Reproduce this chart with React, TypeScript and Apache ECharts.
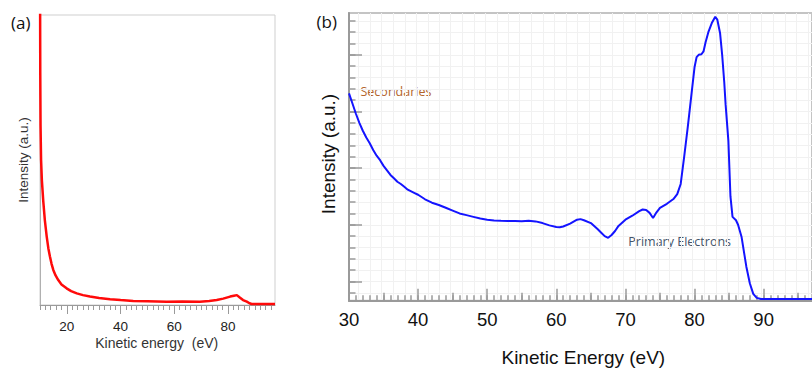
import React, { useEffect, useRef } from "react";
import * as echarts from "echarts";

// ---------- Panel (a): full spectrum ----------
const A_ENERGY = [10.0, 10.1, 10.2, 10.4, 10.7, 11.2, 11.8, 12.5, 13.1, 13.7, 14.3, 14.95, 15.8, 16.8, 18.0, 19.9, 21.6, 23.7, 26.0, 28.6, 32.0, 36.1, 40.0, 44.7, 50.0, 57.2, 63.0, 69.5, 73.0, 75.8, 78.2, 80.8, 82.2, 83.3, 84.5, 85.6, 87.0, 88.0, 88.8, 92.0, 97.5];
const A_INTENSITY = [118, 80, 62, 50, 43, 36, 29.3, 23.6, 19.6, 16.7, 14.2, 12.1, 10.2, 8.6, 7.1, 5.75, 4.8, 4.0, 3.4, 2.9, 2.4, 2.0, 1.7, 1.4, 1.3, 1.15, 1.2, 1.15, 1.4, 1.7, 2.2, 2.9, 3.2, 3.4, 2.5, 1.7, 1.15, 0.6, 0.35, 0.35, 0.35];
const A_MINOR_TICKS = [10, 12, 14, 16, 18, 20, 22, 24, 26, 28, 30, 32, 34, 36, 38, 40, 42, 44, 46, 48, 50, 52, 54, 56, 58, 60, 62, 64, 66, 68, 70, 72, 74, 76, 78, 80, 82, 84, 86, 88, 90, 92, 94, 96];
const A_LABELS = [20, 40, 60, 80];

// ---------- Panel (b): zoomed spectrum ----------
const B_ENERGY = [30, 30.5, 31, 31.5, 32, 32.5, 33, 33.5, 34, 34.5, 35, 35.5, 36, 36.5, 37, 37.5, 38, 38.5, 39, 39.5, 40, 41, 42, 43, 44, 45, 46, 47, 48, 49, 50, 51, 52, 53, 54, 55, 56, 57, 58, 59, 60, 60.5, 61, 62, 63, 63.5, 64, 65, 66, 66.5, 67, 67.5, 68, 68.5, 69, 70, 71, 72, 72.5, 73, 73.5, 74, 74.5, 75, 76, 77, 77.5, 78, 78.5, 79, 79.5, 80, 80.3, 80.6, 81, 81.3, 81.6, 82, 82.5, 83, 83.3, 83.7, 84, 84.3, 84.5, 84.9, 85.2, 85.5, 86, 86.3, 86.8, 87.5, 88, 88.5, 89, 89.6, 91, 93, 95, 97];
const B_INTENSITY = [16.6, 15.7, 14.8, 14.0, 13.3, 12.7, 12.2, 11.6, 11.1, 10.7, 10.2, 9.8, 9.4, 9.1, 8.8, 8.6, 8.35, 8.1, 7.95, 7.8, 7.65, 7.25, 6.95, 6.75, 6.5, 6.25, 6.0, 5.85, 5.7, 5.55, 5.45, 5.38, 5.35, 5.33, 5.34, 5.32, 5.36, 5.3, 5.15, 4.95, 4.8, 4.78, 4.85, 5.1, 5.45, 5.5, 5.4, 5.15, 4.6, 4.3, 4.0, 3.85, 4.1, 4.45, 4.9, 5.45, 5.8, 6.2, 6.35, 6.3, 6.05, 5.6, 6.1, 6.5, 6.85, 7.3, 7.7, 8.6, 11.0, 13.5, 16.2, 18.9, 19.8, 20.0, 20.05, 20.3, 21.1, 22.0, 22.8, 23.35, 23.1, 21.9, 20.0, 17.6, 15.6, 12.4, 7.5, 5.7, 5.4, 5.0, 3.95, 1.3, -0.16, -1.1, -1.45, -1.55, -1.55, -1.55, -1.55, -1.55];
const B_MAJOR_X = [30, 40, 50, 60, 70, 80, 90];
const B_MID_X = [35, 45, 55, 65, 75, 85, 95];
const B_MINOR_X = [30, 31, 32, 33, 34, 35, 36, 37, 38, 39, 40, 41, 42, 43, 44, 45, 46, 47, 48, 49, 50, 51, 52, 53, 54, 55, 56, 57, 58, 59, 60, 61, 62, 63, 64, 65, 66, 67, 68, 69, 70, 71, 72, 73, 74, 75, 76, 77, 78, 79, 80, 81, 82, 83, 84, 85, 86, 87, 88, 89, 90, 91, 92, 93, 94, 95, 96];
const B_GRID_X = [31.4, 33.1, 34.7, 36.4, 38.1, 39.7, 41.4, 43.1, 44.7, 46.4, 48.1, 49.7, 51.4, 53.1, 54.7, 56.4, 58.1, 59.7, 61.4, 63.1, 64.7, 66.4, 68.1, 69.7, 71.4, 73.1, 74.7, 76.4, 78.1, 79.7, 81.4, 83.1, 84.7, 86.4, 88.1, 89.7, 91.4, 93.1, 94.7, 96.4];
const B_MINOR_Y = [-1, 0, 1, 2, 3, 4, 5, 6, 7, 8, 9, 10, 11, 12, 13, 14, 15, 16, 17, 18, 19, 20, 21, 22, 23];
const B_MAJOR_Y = [0, 5, 10, 15, 20];

const AXIS_GREY = "#9a9a9a";
const SANS = "'Liberation Sans', Arial, sans-serif";
const NOTE = "'Open Sans', Lato, sans-serif";

export default function App() {
  const ref = useRef<HTMLDivElement>(null);

  useEffect(() => {
    if (!ref.current) return;
    const chart = echarts.init(ref.current, undefined, { renderer: "svg" });
    const aData = A_ENERGY.map((e, i) => [e, A_INTENSITY[i]]);
    const bData = B_ENERGY.map((e, i) => [e, B_INTENSITY[i]]);

    const bX = (extra: any) => ({
      gridIndex: 1, type: "value", min: 30, max: 97, position: "bottom",
      axisLabel: { show: false },
      splitLine: { show: false },
      ...extra,
    });

    chart.setOption({
      animation: false,
      backgroundColor: "#ffffff",
      grid: [
        { left: 40, top: 15, width: 235, height: 290, show: true, borderColor: "#cfcfcf", borderWidth: 1 },
        { left: 349, top: 13, width: 469, height: 287.7, show: true, borderColor: "#c4c4c4", borderWidth: 2 },
      ],
      xAxis: [
        {
          gridIndex: 0, type: "value", min: 10, max: 97.5, position: "bottom",
          axisLine: { onZero: false, lineStyle: { color: AXIS_GREY, width: 1 } },
          axisTick: { customValues: A_MINOR_TICKS, length: 5, lineStyle: { color: AXIS_GREY } },
          axisLabel: { customValues: A_LABELS, fontSize: 13.5, fontFamily: SANS, color: "#222", margin: 14 },
          splitLine: { show: false },
        },
        {
          gridIndex: 0, type: "value", min: 10, max: 97.5, position: "bottom",
          axisLine: { show: false, onZero: false },
          axisTick: { customValues: A_LABELS, length: 9, lineStyle: { color: AXIS_GREY } },
          axisLabel: { show: false },
          splitLine: { show: false },
        },
        bX({
          axisLine: { onZero: false, lineStyle: { color: AXIS_GREY, width: 2 } },
          axisTick: { inside: true, customValues: B_MAJOR_X, length: 12, lineStyle: { color: AXIS_GREY, width: 1.5 } },
          axisLabel: { customValues: B_MAJOR_X, fontSize: 18.5, fontFamily: SANS, color: "#111", margin: 9 },
        }),
        bX({
          axisLine: { show: false, onZero: false },
          axisTick: { inside: true, customValues: B_MID_X, length: 8, lineStyle: { color: AXIS_GREY, width: 1.5 } },
        }),
        bX({
          axisLine: { show: false, onZero: false },
          axisTick: { inside: true, customValues: B_MINOR_X, length: 5.5, lineStyle: { color: AXIS_GREY, width: 1.5 } },
        }),
        bX({
          axisLine: { show: false, onZero: false },
          axisTick: { show: false, customValues: B_GRID_X },
          splitLine: { show: true, lineStyle: { color: "#f1f1f1", width: 1 } },
        }),
      ],
      yAxis: [
        {
          gridIndex: 0, type: "value", min: 0, max: 100, position: "left",
          axisLine: { show: true, onZero: false, lineStyle: { color: "#b0b0b0", width: 1 } },
          axisTick: { show: false },
          axisLabel: { show: false },
          splitLine: { show: false },
        },
        {
          gridIndex: 1, type: "value", min: -1.7, max: 23.69, position: "left",
          axisLine: { show: true, onZero: false, lineStyle: { color: AXIS_GREY, width: 2 } },
          axisTick: { inside: true, customValues: B_MINOR_Y, length: 6.5, lineStyle: { color: AXIS_GREY, width: 1.5 } },
          axisLabel: { show: false },
          splitLine: { show: true, lineStyle: { color: "#f1f1f1", width: 1 } },
        },
        {
          gridIndex: 1, type: "value", min: -1.7, max: 23.69, position: "left",
          axisLine: { show: false, onZero: false },
          axisTick: { inside: true, customValues: B_MAJOR_Y, length: 13, lineStyle: { color: AXIS_GREY, width: 1.5 } },
          axisLabel: { show: false },
          splitLine: { show: false },
        },
      ],
      series: [
        {
          type: "line", xAxisIndex: 0, yAxisIndex: 0, data: aData,
          showSymbol: false, clip: true,
          lineStyle: { color: "#ff0a0a", width: 2.5 },
        },
        {
          type: "line", xAxisIndex: 2, yAxisIndex: 1, data: bData,
          showSymbol: false, clip: true,
          lineStyle: { color: "#1414ff", width: 2 },
        },
      ],
      graphic: [
        { type: "text", x: 11, y: 22.5, style: { text: "(a)", fontSize: 17, fontFamily: NOTE, fill: "#111", verticalAlign: "middle" } },
        { type: "text", x: 316.5, y: 21.7, style: { text: "(b)", fontSize: 17, fontFamily: NOTE, fill: "#111", verticalAlign: "middle" } },
        { type: "text", x: 23, y: 160, rotation: Math.PI / 2, style: { text: "Intensity (a.u.)", fontSize: 13.5, fontFamily: SANS, fill: "#333", align: "center", verticalAlign: "middle" } },
        { type: "text", x: 156.7, y: 343, style: { text: "Kinetic energy  (eV)", fontSize: 14, fontFamily: SANS, fill: "#333", align: "center", verticalAlign: "middle" } },
        { type: "text", x: 328, y: 154, rotation: Math.PI / 2, style: { text: "Intensity (a.u.)", fontSize: 19, fontFamily: SANS, fill: "#111", align: "center", verticalAlign: "middle" } },
        { type: "text", x: 583.3, y: 357.5, style: { text: "Kinetic Energy (eV)", fontSize: 19, fontFamily: SANS, fill: "#111", align: "center", verticalAlign: "middle" } },
        { type: "text", x: 360.5, y: 91.7, style: { text: "Secondaries", fontSize: 12.5, fontFamily: NOTE, fill: "#b4652a", verticalAlign: "middle" } },
        { type: "text", x: 628.3, y: 241, style: { text: "Primary Electrons", fontSize: 12.5, fontFamily: NOTE, fill: "#44546a", verticalAlign: "middle" } },
      ],
    });

    return () => chart.dispose();
  }, []);

  return (
    <div
      ref={ref}
      style={{ position: "fixed", left: 0, top: 0, width: 812, height: 368, background: "#fff" }}
    />
  );
}
